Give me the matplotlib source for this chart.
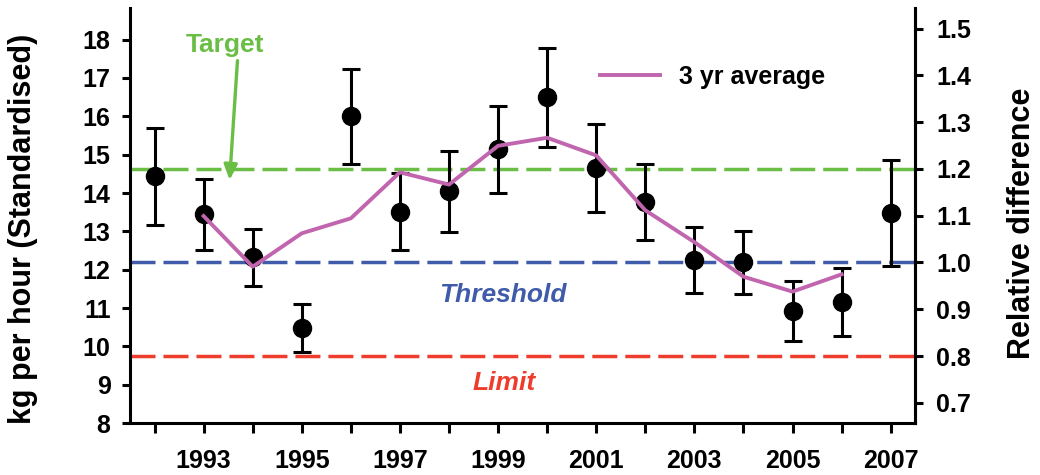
import numpy as np
import matplotlib.pyplot as plt

plt.rcParams["font.family"] = ["Liberation Sans", "DejaVu Sans"]
plt.rcParams["font.weight"] = "bold"

# ─── Dados ────────────────────────────────────────────────────────────────────
years    = [1992, 1993, 1994, 1995, 1996, 1997, 1998, 1999,
            2000, 2001, 2002, 2003, 2004, 2005, 2006, 2007]
catch    = [14.44, 13.44, 12.34, 10.49, 16.00, 13.50, 14.05, 15.14,
            16.49, 14.64, 13.77, 12.26, 12.19, 10.92, 11.17, 13.49]
err_high = [15.70, 14.36, 13.07, 11.12, 17.23, 14.51, 15.10, 16.28,
            17.77, 15.79, 14.75, 13.12, 13.02, 11.71, 12.05, 14.86]
err_low  = [13.16, 12.51, 11.58, 9.85, 14.76, 12.52, 12.98, 14.00,
            15.20, 13.51, 12.77, 11.39, 11.36, 10.13, 10.28, 12.11]

avg_years = [1993, 1994, 1995, 1996, 1997, 1998, 1999,
             2000, 2001, 2002, 2003, 2004, 2005, 2006]
avg3      = [13.40, 12.08, 12.95, 13.34, 14.54, 14.22, 15.23,
             15.44, 14.98, 13.55, 12.72, 11.82, 11.43, 11.88]

threshold = 12.19          # = 1.0 na escala relativa
target    = 1.2 * threshold
limit     = 0.8 * threshold

GREEN   = "#6BBE45"
BLUE    = "#3F5BA9"
RED     = "#EE3D2C"
MAGENTA = "#C065AE"

# ─── Figura ───────────────────────────────────────────────────────────────────
fig = plt.figure(figsize=(10.4, 4.75), dpi=100)
ax = fig.add_axes([0.125, 0.109, 0.755, 0.874])

catch_arr = np.array(catch)
yerr = [catch_arr - np.array(err_low), np.array(err_high) - catch_arr]

dash = (7.2, 2.3)
ax.axhline(target, color=GREEN, lw=2.5, dashes=dash, zorder=1)
ax.axhline(threshold, color=BLUE, lw=2.5, dashes=dash, zorder=1)
ax.axhline(limit, color=RED, lw=2.5, dashes=dash, zorder=1)

ax.errorbar(years, catch, yerr=yerr, fmt="o", color="black", ms=13,
            elinewidth=2.2, capsize=6.5, capthick=2.2, zorder=3)
ax.plot(avg_years, avg3, color=MAGENTA, lw=2.8, label="3 yr average", zorder=4)

ax.set_xlim(1991.5, 2007.5)
ax.set_ylim(8, 18.82)
ax.set_xticks(years)
ax.set_xticklabels([str(y) if y % 2 == 1 else "" for y in years])
ax.set_yticks(range(8, 19))
ax.tick_params(axis="x", direction="out", length=7.5, width=2.2, pad=11, labelsize=18)
ax.tick_params(axis="y", direction="out", length=6, width=2.2, pad=8, labelsize=18)
ax.set_ylabel("kg per hour (Standardised)", fontsize=22, fontweight="bold",
              ha="center", va="center")
ax.yaxis.set_label_coords(-0.136, 0.467)

for side in ["left", "right", "bottom"]:
    ax.spines[side].set_linewidth(2.2)
ax.spines["top"].set_visible(False)

# eixo direito — diferença relativa
ax2 = ax.twinx()
ax2.set_ylim(8 / threshold, 18.82 / threshold)
ax2.set_yticks(np.arange(0.7, 1.51, 0.1))
ax2.yaxis.set_major_formatter(plt.FormatStrFormatter("%.1f"))
ax2.tick_params(axis="y", direction="out", length=6, width=2.2, pad=9, labelsize=18)
ax2.set_ylabel("Relative difference", fontsize=22, fontweight="bold",
               ha="center", va="center")
ax2.yaxis.set_label_coords(1.136, 0.481)
ax2.spines["right"].set_linewidth(2.2)
ax2.spines["top"].set_visible(False)
ax2.spines["left"].set_visible(False)
ax2.spines["bottom"].set_visible(False)

# anotações
ax.annotate("", xy=(1993.53, 14.34), xytext=(1993.69, 17.45),
            arrowprops=dict(arrowstyle="-|>,head_length=0.9,head_width=0.4",
                            color=GREEN, lw=2.4, shrinkA=0, shrinkB=0))
ax.text(1993.43, 17.85, "Target", color=GREEN, fontsize=19, fontweight="bold",
        ha="center", va="center")
ax.text(1999.1, 11.34, "Threshold", color=BLUE, fontsize=19, fontweight="bold",
        style="italic", ha="center", va="center")
ax.text(1999.12, 9.05, "Limit", color=RED, fontsize=19, fontweight="bold",
        style="italic", ha="center", va="center")

ax.legend(loc="center left", bbox_to_anchor=(0.599, 0.835), frameon=False,
          fontsize=18, handlelength=2.4, handletextpad=0.75,
          borderpad=0, borderaxespad=0)

fig.savefig("out.png", dpi=100)
